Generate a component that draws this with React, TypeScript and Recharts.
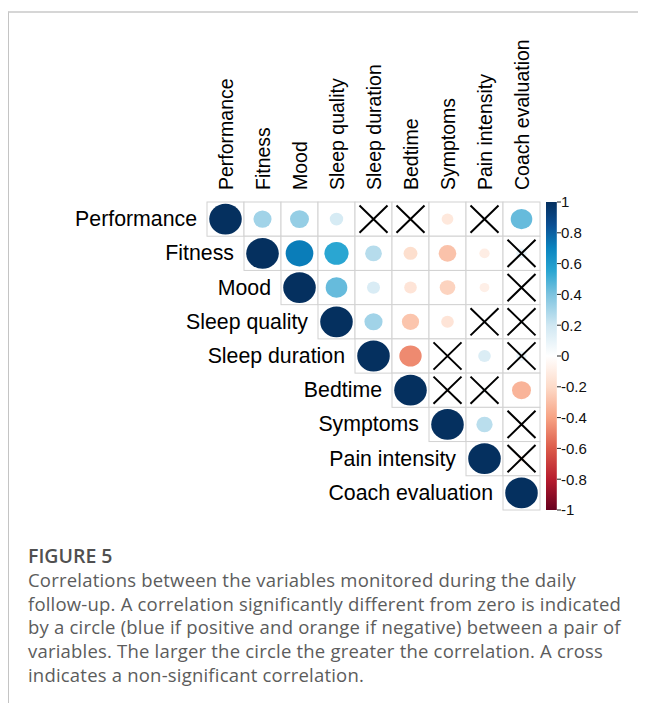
import React from "react";
import { ScatterChart, Scatter, XAxis, YAxis, BarChart, Bar } from "recharts";

// ---------- data ----------
const variables = [
  "Performance",
  "Fitness",
  "Mood",
  "Sleep quality",
  "Sleep duration",
  "Bedtime",
  "Symptoms",
  "Pain intensity",
  "Coach evaluation",
];

// upper-triangle correlations, each row starts at the diagonal
const rPerformance = [1, 0.31, 0.34, 0.17, 0.02, -0.03, -0.13, 0.03, 0.44];
const rFitness = [1, 0.72, 0.55, 0.26, -0.18, -0.29, -0.1, 0.1];
const rMood = [1, 0.44, 0.16, -0.15, -0.23, -0.09, 0.02];
const rSleepQuality = [1, 0.31, -0.28, -0.15, 0.03, 0.02];
const rSleepDuration = [1, -0.47, -0.03, 0.15, 0.1];
const rBedtime = [1, -0.03, 0.03, -0.34];
const rSymptoms = [1, 0.25, -0.03];
const rPainIntensity = [1, -0.06];
const rCoachEvaluation = [1];

// significance flags (1 = significant circle, 0 = cross)
const sPerformance = [1, 1, 1, 1, 0, 0, 1, 0, 1];
const sFitness = [1, 1, 1, 1, 1, 1, 1, 0];
const sMood = [1, 1, 1, 1, 1, 1, 0];
const sSleepQuality = [1, 1, 1, 1, 0, 0];
const sSleepDuration = [1, 1, 0, 1, 0];
const sBedtime = [1, 0, 0, 1];
const sSymptoms = [1, 1, 0];
const sPainIntensity = [1, 0];
const sCoachEvaluation = [1];

const colorbarTicks = [-1, -0.8, -0.6, -0.4, -0.2, 0, 0.2, 0.4, 0.6, 0.8, 1];

const captionTitle = "FIGURE 5";
const captionLines = [
  "Correlations between the variables monitored during the daily",
  "follow-up. A correlation significantly different from zero is indicated",
  "by a circle (blue if positive and orange if negative) between a pair of",
  "variables. The larger the circle the greater the correlation. A cross",
  "indicates a non-significant correlation.",
];

const corrRows = [
  rPerformance,
  rFitness,
  rMood,
  rSleepQuality,
  rSleepDuration,
  rBedtime,
  rSymptoms,
  rPainIntensity,
  rCoachEvaluation,
];
const sigRows = [
  sPerformance,
  sFitness,
  sMood,
  sSleepQuality,
  sSleepDuration,
  sBedtime,
  sSymptoms,
  sPainIntensity,
  sCoachEvaluation,
];

const cells: any[] = [];
corrRows.forEach((row, i) => {
  row.forEach((r, k) => {
    const col = i + k;
    cells.push({ x: col + 0.5, y: i + 0.5, r, sig: sigRows[i][k], row: i, col });
  });
});

// ---------- styles ----------
const POS_STOPS: [number, string][] = [
  [0, "#FFFFFF"],
  [0.2, "#CFE7F2"],
  [0.4, "#7CC3DF"],
  [0.55, "#2AA6D2"],
  [0.7, "#0A84BF"],
  [0.85, "#0B4F93"],
  [1, "#05305F"],
];
const NEG_STOPS: [number, string][] = [
  [0, "#FFFFFF"],
  [0.2, "#FDDBC9"],
  [0.4, "#F7A384"],
  [0.6, "#DC5B4A"],
  [0.8, "#B71C2E"],
  [1, "#67001F"],
];

function hexToRgb(h: string) {
  const n = parseInt(h.slice(1), 16);
  return [(n >> 16) & 255, (n >> 8) & 255, n & 255];
}
function interp(stops: [number, string][], t: number) {
  for (let i = 1; i < stops.length; i++) {
    if (t <= stops[i][0]) {
      const [t0, c0] = stops[i - 1];
      const [t1, c1] = stops[i];
      const f = (t - t0) / (t1 - t0);
      const a = hexToRgb(c0);
      const b = hexToRgb(c1);
      const c = a.map((v, j) => Math.round(v + (b[j] - v) * f));
      return `rgb(${c[0]},${c[1]},${c[2]})`;
    }
  }
  return stops[stops.length - 1][1];
}
function colorFor(r: number) {
  return r >= 0 ? interp(POS_STOPS, r) : interp(NEG_STOPS, -r);
}

const PLOT_W = 333;
const PLOT_H = 308;
const CELL_W = PLOT_W / 9;
const CELL_H = PLOT_H / 9;
const RX_MAX = CELL_W * 0.44;
const RY_MAX = CELL_H * 0.45;
const FONT = "'Liberation Sans', Arial, Helvetica, sans-serif";

function CellShape(props: any) {
  const { cx, cy, payload } = props;
  if (cx == null || cy == null) return null;
  const a = Math.sqrt(Math.abs(payload.r));
  const x0 = cx - CELL_W / 2;
  const y0 = cy - CELL_H / 2;
  return (
    <g>
      <rect x={x0} y={y0} width={CELL_W} height={CELL_H} fill="#fff" stroke="#d2d2d2" strokeWidth={1} />
      <ellipse cx={cx} cy={cy} rx={RX_MAX * a} ry={RY_MAX * a} fill={colorFor(payload.r)} />
      {!payload.sig && (
        <path
          d={`M${x0 + 4.5},${y0 + 3.5}L${x0 + CELL_W - 4.5},${y0 + CELL_H - 3.5}M${x0 + CELL_W - 4.5},${y0 + 3.5}L${x0 + 4.5},${y0 + CELL_H - 3.5}`}
          stroke="#000"
          strokeWidth={2}
          fill="none"
        />
      )}
      {payload.row === payload.col && (
        <text
          x={x0 - 10}
          y={cy}
          textAnchor="end"
          dominantBaseline="central"
          fontSize={21.3}
          fontFamily={FONT}
          fill="#000"
        >
          {variables[payload.row]}
        </text>
      )}
    </g>
  );
}

function TopTick(props: any) {
  const { x, y, payload } = props;
  const idx = Math.floor(payload.value);
  return (
    <text
      transform={`translate(${x},${y - 1}) rotate(-90)`}
      textAnchor="start"
      dominantBaseline="central"
      fontSize={19.5}
      fontFamily={FONT}
      fill="#000"
    >
      {variables[idx]}
    </text>
  );
}

const colTicks = variables.map((_, i) => i + 0.5);
const colorbarData = [{ name: "cb", range: [-1, 1] }];

export default function App() {
  return (
    <div style={{ paddingTop: 3 }}>
      <div
        style={{
          position: "relative",
          width: 637,
          height: 690,
          borderTop: "2px solid #d6d6d6",
          borderLeft: "1px solid #c4c4c4",
          background: "#fff",
        }}
      >
        <ScatterChart
          width={600}
          height={502}
          margin={{ top: 0, right: 69, bottom: 5, left: 198 }}
        >
          <XAxis
            type="number"
            dataKey="x"
            domain={[0, 9]}
            ticks={colTicks}
            orientation="top"
            height={189}
            axisLine={false}
            tickLine={false}
            tickSize={0}
            tickMargin={11}
            interval={0}
            tick={<TopTick />}
          />
          <YAxis type="number" dataKey="y" domain={[0, 9]} reversed hide />
          <Scatter data={cells} shape={<CellShape />} isAnimationActive={false} />
        </ScatterChart>

        <div style={{ position: "absolute", left: 536, top: 179 }}>
          <BarChart
            width={62}
            height={328}
            data={colorbarData}
            margin={{ top: 10, right: 0, bottom: 10, left: 0 }}
            barCategoryGap={0}
          >
            <defs>
              <linearGradient id="cbGrad" x1="0" y1="0" x2="0" y2="1">
                {POS_STOPS.slice()
                  .reverse()
                  .map(([t, c]) => (
                    <stop key={"p" + t} offset={`${((1 - t) / 2) * 100}%`} stopColor={c} />
                  ))}
                {NEG_STOPS.slice(1).map(([t, c]) => (
                  <stop key={"n" + t} offset={`${((1 + t) / 2) * 100}%`} stopColor={c} />
                ))}
              </linearGradient>
            </defs>
            <XAxis dataKey="name" hide />
            <YAxis
              orientation="right"
              width={50}
              domain={[-1, 1]}
              ticks={colorbarTicks}
              interval={0}
              axisLine={false}
              tickLine={{ stroke: "#222", strokeWidth: 1 }}
              tickSize={4}
              tickMargin={0}
              tick={{ fontSize: 15, fontFamily: FONT, fill: "#111" }}
            />
            <Bar dataKey="range" fill="url(#cbGrad)" barSize={12} isAnimationActive={false} />
          </BarChart>
        </div>

        <div
          style={{
            position: "absolute",
            left: 19,
            top: 531,
            fontFamily: "'Open Sans', 'Noto Sans', sans-serif",
            color: "#5c5c5c",
          }}
        >
          <div style={{ fontSize: 19.5, fontWeight: 600, lineHeight: "24px", color: "#505050" }}>
            {captionTitle}
          </div>
          {captionLines.map((l, i) => (
            <div
              key={i}
              style={{ fontSize: 18.5, lineHeight: "23.7px", letterSpacing: "0.2px", whiteSpace: "nowrap" }}
            >
              {l}
            </div>
          ))}
        </div>
      </div>
    </div>
  );
}
